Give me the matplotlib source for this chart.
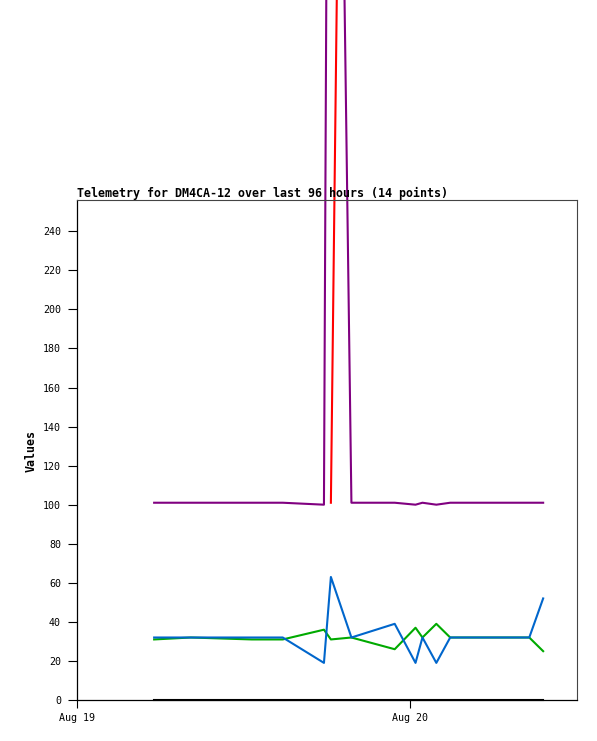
import numpy as np
import matplotlib
matplotlib.use("Agg")
import matplotlib.pyplot as plt

# hours since Aug 19 00:00
hours = [5.56, 8.2, 12.6, 14.83, 17.8, 18.3, 19.78, 22.9, 24.4, 24.9, 25.9, 26.9, 32.6, 33.6]
purple_vals = [101, 101, 101, 101, 100, 870, 101, 101, 100, 101, 100, 101, 101, 101]
red_vals = [np.nan, np.nan, np.nan, np.nan, np.nan, 101, 1000, np.nan, np.nan, np.nan, np.nan, np.nan, np.nan, np.nan]
green_vals = [31, 32, 31, 31, 36, 31, 32, 26, 37, 32, 39, 32, 32, 25]
blue_vals = [32, 32, 32, 32, 19, 63, 32, 39, 19, 32, 19, 32, 32, 52]
black_vals = [0] * 14

xtick_pos = [0, 24]
xtick_labels = ["Aug 19", "Aug 20"]
yticks = list(range(0, 241, 20))

title = "Telemetry for DM4CA-12 over last 96 hours (14 points)"

W, H = 597, 741
fig = plt.figure(figsize=(W / 100, H / 100), dpi=100)
ax = fig.add_axes([77 / W, (H - 700) / H, 500 / W, 500 / H])

lw = 1.5
ax.plot(hours, purple_vals, color="#800080", lw=lw, clip_on=False)
ax.plot(hours, red_vals, color="#ff0000", lw=lw, clip_on=False)
ax.plot(hours, green_vals, color="#00aa00", lw=lw, clip_on=False)
ax.plot(hours, blue_vals, color="#0066cc", lw=lw, clip_on=False)
ax.plot(hours, black_vals, color="#000000", lw=lw, clip_on=False, zorder=5)

ax.set_xlim(0, 36.04)
ax.set_ylim(0, 256)

tick_font = dict(fontsize=7.2, family="DejaVu Sans Mono")
ax.set_yticks(yticks)
ax.set_yticklabels([str(v) for v in yticks], **tick_font)
ax.set_xticks(xtick_pos)
ax.set_xticklabels(xtick_labels, **tick_font)
ax.tick_params(axis="y", length=6.5, width=0.8, pad=5, direction="out")
ax.tick_params(axis="x", length=5.5, width=0.8, pad=4, direction="out")

for s in ["left", "bottom"]:
    ax.spines[s].set_color("black")
    ax.spines[s].set_linewidth(0.9)
for s in ["top", "right"]:
    ax.spines[s].set_color("#444444")
    ax.spines[s].set_linewidth(0.8)

fig.text(77 / W, (H - 197) / H, title, fontsize=8.35, family="DejaVu Sans Mono",
         fontweight="bold", ha="left", va="baseline")
fig.text(31 / W, (H - 451) / H, "Values", fontsize=8.35, family="DejaVu Sans Mono",
         fontweight="bold", rotation=90, ha="center", va="center")

fig.savefig("out.png", dpi=100, facecolor="white")
